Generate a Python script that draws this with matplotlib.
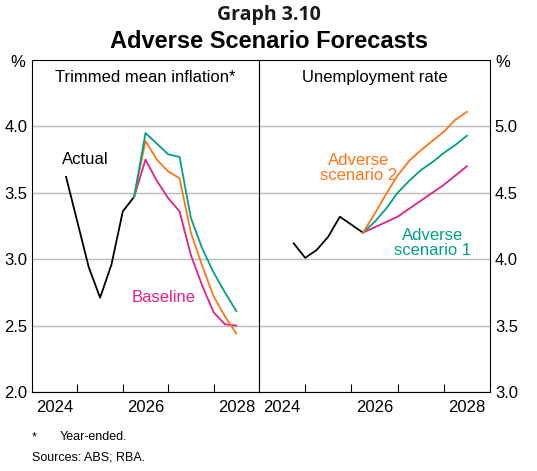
import numpy as np
import matplotlib.pyplot as plt

plt.rcParams['font.family'] = ['Liberation Sans', 'DejaVu Sans']

# quarterly points, placed mid-quarter
actual_x = 2024.75 + 0.25 * np.arange(7)
fc_x = actual_x[-1] + 0.25 * np.arange(10)

infl_actual = [3.62, 3.28, 2.94, 2.71, 2.96, 3.36, 3.47]
infl_base = [3.47, 3.75, 3.59, 3.46, 3.36, 3.03, 2.80, 2.60, 2.51, 2.50]
infl_adv1 = [3.47, 3.95, 3.87, 3.79, 3.77, 3.31, 3.08, 2.90, 2.75, 2.61]
infl_adv2 = [3.47, 3.89, 3.75, 3.66, 3.61, 3.20, 2.95, 2.72, 2.57, 2.44]

unemp_actual = [4.12, 4.01, 4.07, 4.17, 4.32, 4.26, 4.20]
unemp_base = [4.20, 4.24, 4.28, 4.32, 4.38, 4.44, 4.50, 4.56, 4.63, 4.70]
unemp_adv1 = [4.20, 4.28, 4.38, 4.50, 4.59, 4.67, 4.73, 4.80, 4.86, 4.93]
unemp_adv2 = [4.20, 4.34, 4.49, 4.63, 4.74, 4.82, 4.89, 4.96, 5.05, 5.11]

PINK = '#e0218a'
TEAL = '#00a087'
ORANGE = '#ff7518'
FS = 12

fig = plt.figure(figsize=(5.37, 4.71), dpi=100)
ax1 = fig.add_axes([32/537, 1-392/471, 227/537, 332/471])
ax2 = fig.add_axes([259/537, 1-392/471, 231/537, 332/471])

for ax in (ax1, ax2):
    ax.set_xlim(2024, 2029)
    ax.set_xticks([2025, 2026, 2027, 2028])
    ax.set_xticklabels([])
    ax.set_xticks([2024.5, 2026.5, 2028.5], minor=True)
    ax.set_xticklabels(['2024', '2026', '2028'], minor=True, fontsize=FS)
    ax.tick_params(axis='x', which='minor', length=0, pad=6)
    ax.tick_params(axis='x', which='major', direction='in', length=6)
    ax.grid(axis='y', color='#bbbbbb', lw=1)
    ax.set_axisbelow(True)
    for s in ax.spines.values():
        s.set_color('black')

ax1.set_ylim(2, 4.5)
ax1.set_yticks([2.0, 2.5, 3.0, 3.5, 4.0])
ax1.set_yticklabels(['2.0', '2.5', '3.0', '3.5', '4.0'], fontsize=FS)
ax1.tick_params(axis='y', length=0)
ax1.plot(actual_x, infl_actual, color='black', lw=1.3)
ax1.plot(fc_x, infl_base, color=PINK, lw=1.3)
ax1.plot(fc_x, infl_adv2, color=ORANGE, lw=1.3)
ax1.plot(fc_x, infl_adv1, color=TEAL, lw=1.3)
ax1.text(0.5, 0.97, 'Trimmed mean inflation*', transform=ax1.transAxes, ha='center', va='top', fontsize=FS)
ax1.text(2024.65, 3.72, 'Actual', fontsize=FS)
ax1.text(2026.2, 2.68, 'Baseline', fontsize=FS, color=PINK)

ax2.set_ylim(3, 5.5)
ax2.yaxis.tick_right()
ax2.set_yticks([3.0, 3.5, 4.0, 4.5, 5.0])
ax2.set_yticklabels(['3.0', '3.5', '4.0', '4.5', '5.0'], fontsize=FS)
ax2.tick_params(axis='y', length=0)
ax2.plot(actual_x, unemp_actual, color='black', lw=1.3)
ax2.plot(fc_x, unemp_base, color=PINK, lw=1.3)
ax2.plot(fc_x, unemp_adv1, color=TEAL, lw=1.3)
ax2.plot(fc_x, unemp_adv2, color=ORANGE, lw=1.3)
ax2.text(0.5, 0.97, 'Unemployment rate', transform=ax2.transAxes, ha='center', va='top', fontsize=FS)
ax2.text(2026.15, 4.6, 'Adverse\nscenario 2', fontsize=FS, color=ORANGE, ha='center', linespacing=1.0)
ax2.text(2027.75, 4.03, 'Adverse\nscenario 1', fontsize=FS, color=TEAL, ha='center', linespacing=1.0)

fig.text(18/537, 1-67/471, '%', fontsize=FS, ha='center')
fig.text(503/537, 1-67/471, '%', fontsize=FS, ha='center')
fig.text(0.5, 1-20/471, 'Graph 3.10', fontsize=14, fontweight='bold', ha='center', color='#1a1a1a',
         family=['Open Sans', 'DejaVu Sans'])
fig.text(0.5, 1-48/471, 'Adverse Scenario Forecasts', fontsize=17, fontweight='bold', ha='center')
fig.text(32/537, 1-440/471, '*', fontsize=9)
fig.text(60/537, 1-440/471, 'Year-ended.', fontsize=9)
fig.text(32/537, 1-460/471, 'Sources: ABS; RBA.', fontsize=9)

fig.savefig('out.png', dpi=100)
